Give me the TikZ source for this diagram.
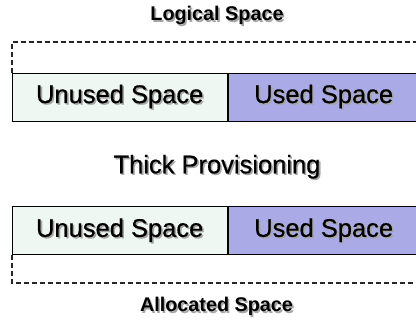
\documentclass[tikz,border=0pt]{standalone}
\usepackage{fontspec}
\setmainfont{Liberation Sans}
\newfontfamily\boxfont[FakeBold=0.5]{Liberation Sans}
\usetikzlibrary{positioning}

\definecolor{unusedfill}{HTML}{EEF7F2}
\definecolor{usedfill}{HTML}{AAAAE6}
\newcommand\shadowed[1]{\makebox[0pt][l]{\raisebox{-1.5pt}{\hspace{1.6pt}\textcolor{black!35}{#1}}}#1}

\begin{document}
\begin{tikzpicture}[x=1pt,y=-1pt,
	space/.style={draw=black,line width=1pt,minimum height=48pt,
		inner sep=0pt,anchor=north west,
		font=\boxfont\fontsize{25.5}{28}\selectfont},
	unused/.style={space,fill=unusedfill,minimum width=215pt},
	used/.style={space,fill=usedfill,minimum width=191pt},
	caption/.style={anchor=base,font=\bfseries\fontsize{19.8}{22}\selectfont},
	title/.style={anchor=base,font=\boxfont\fontsize{25.5}{28}\selectfont},
	frame/.style={dashed,dash pattern=on 5pt off 3pt,line width=2pt,
		draw=black!85}]
	\useasboundingbox (0,0) rectangle (416,320);

	% logical space (top)
	\node[caption] (logical) at (217,20.7) {\shadowed{Logical Space}};
	\node[unused] (lunused) at (11.7,72.7) {\shadowed{Unused Space}};
	\node[used, right=0pt of lunused] (lused) {\shadowed{Used Space}};
	\draw[frame] (lunused.north west) |- ([xshift=6pt,yshift=30.5pt]lused.north east);

	\node[title] (thick) at (217,173.3) {\shadowed{Thick Provisioning}};

	% allocated space (bottom)
	\node[unused] (bunused) at (11.7,206.5) {\shadowed{Unused Space}};
	\node[used, right=0pt of bunused] (bused) {\shadowed{Used Space}};
	\draw[frame] (bunused.south west) |- ([xshift=6pt,yshift=-28pt]bused.south east);
	\node[caption] (allocated) at (216.5,312) {\shadowed{Allocated Space}};
\end{tikzpicture}
\end{document}
